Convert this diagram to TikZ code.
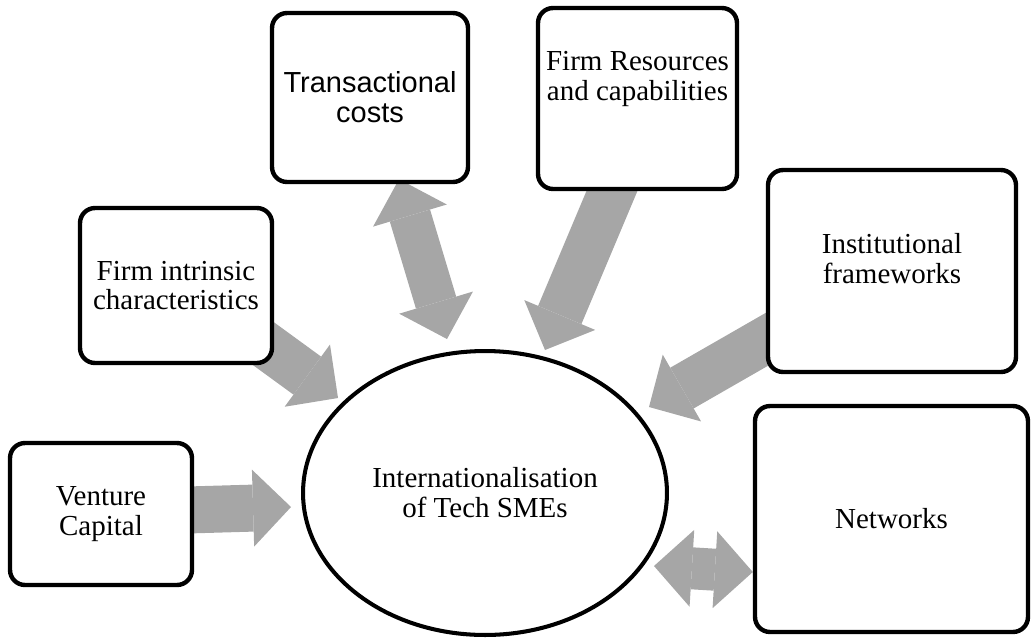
\documentclass[tikz,border=0pt]{standalone}
\usepackage{fontspec}
\setmainfont{Liberation Serif}
\newfontfamily\sansfont{Liberation Sans}
\usetikzlibrary{arrows.meta,calc,backgrounds,shapes.geometric}

\definecolor{arrowgray}{RGB}{166,166,166}

\tikzset{
  factor/.style={draw,line width=2.5pt,rounded corners=0.3cm,fill=white,
    align=center,font=\fontsize{16.5}{17}\selectfont},
  core/.style={draw,ellipse,line width=2.3pt,fill=white,inner sep=0pt,
    align=center,font=\fontsize{16.5}{17}\selectfont},
  blk/.style={arrowgray,line width=0.94cm,-{Triangle[length=0.76cm,width=1.54cm,line width=0pt]}},
  blkboth/.style={arrowgray,line width=0.84cm,
    {Triangle[length=0.76cm,width=1.54cm,line width=0pt]}-{Triangle[length=0.76cm,width=1.54cm,line width=0pt]}},
}

\begin{document}
\begin{tikzpicture}[x=0.02cm,y=-0.02cm]
  \useasboundingbox (0,0) rectangle (1031,637);

  % the factors
  \node[factor,minimum width=3.92cm,minimum height=3.38cm,
        font=\sansfont\fontsize{16.5}{17}\selectfont] (tc) at (370,97.5) {Transactional\\costs};
  \node[factor,minimum width=3.98cm,minimum height=3.62cm,text depth=25.5pt] (frc) at (637.5,98.5) {Firm Resources\\and capabilities};
  \node[factor,minimum width=3.84cm,minimum height=3.10cm] (fic) at (176,285.5) {Firm intrinsic\\characteristics};
  \node[factor,minimum width=4.96cm,minimum height=4.04cm,text depth=14pt] (ifc) at (892,271) {Institutional\\frameworks};
  \node[factor,minimum width=3.64cm,minimum height=2.84cm] (vc) at (101,514) {Venture\\Capital};
  \node[factor,minimum width=5.46cm,minimum height=4.52cm] (nw) at (891.5,519) {Networks};

  % the core
  \node[core,minimum width=7.28cm,minimum height=5.68cm] (ell) at (485,493) {Internationalisation\\of Tech SMEs};

  % block arrows, tails hidden below the boxes
  \begin{scope}[on background layer]
    \draw[blk] ($(vc.east)+(-7,-4)$) -- ($(ell.west)+(-10,14)$);
    \draw[blk] ($(fic.south east)+(-21,-29)$) -- ($(ell.west)+(37,-95)$);
    \draw[blkboth] ($(tc.south)+(29,-5)$) -- ($(ell.north)+(-38,-10)$);
    \draw[blk] ($(frc.south)+(-21,-11)$) -- ($(ell.north)+(60,1)$);
    \draw[blk] ($(ifc.west)+(12,62)$) -- ($(ell.east)+(-20,-86)$);
    \draw[blkboth] ($(ell.east)+(-15,73)$) -- ($(nw.west)+(0,53)$);
  \end{scope}
\end{tikzpicture}
\end{document}
